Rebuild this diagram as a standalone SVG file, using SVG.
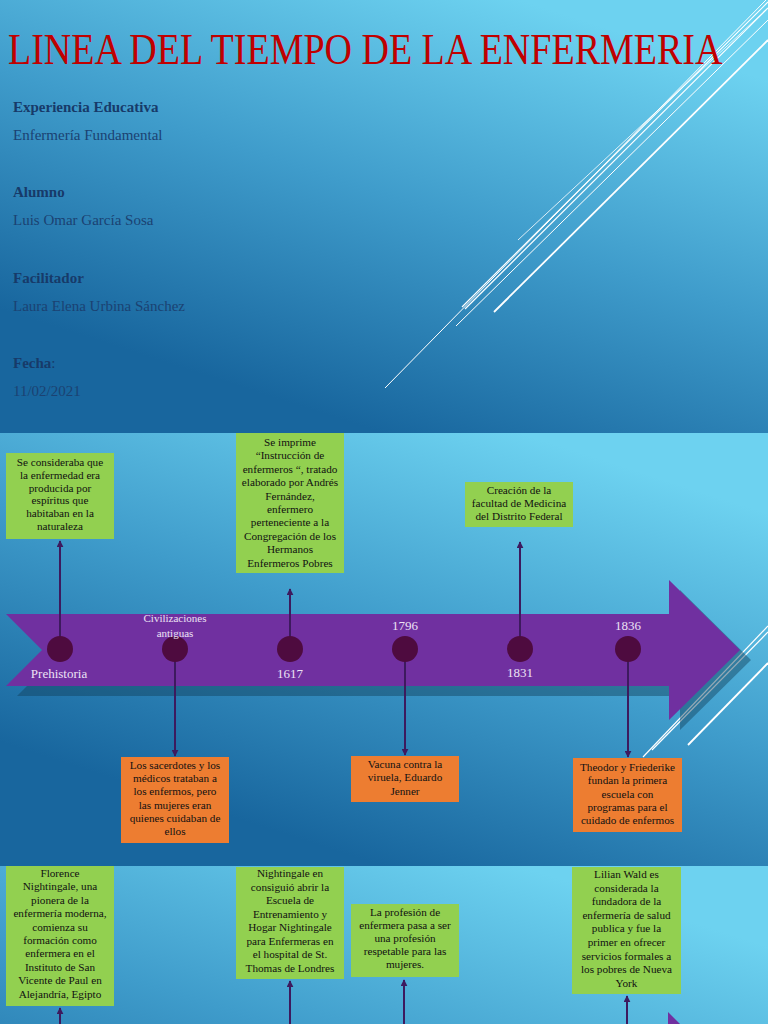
<svg xmlns="http://www.w3.org/2000/svg" width="768" height="1024" viewBox="0 0 768 1024">
<defs>
<linearGradient id="g1" gradientUnits="userSpaceOnUse" x1="520" y1="0" x2="380" y2="432">
<stop offset="0" stop-color="#6dd2f0"/><stop offset="0.5" stop-color="#3f9ccb"/><stop offset="1" stop-color="#18669e"/>
</linearGradient>
<linearGradient id="g2" gradientUnits="userSpaceOnUse" x1="520" y1="433" x2="380" y2="865">
<stop offset="0" stop-color="#6dd2f0"/><stop offset="0.5" stop-color="#3f9ccb"/><stop offset="1" stop-color="#18669e"/>
</linearGradient>
<linearGradient id="g3" gradientUnits="userSpaceOnUse" x1="520" y1="866" x2="380" y2="1298">
<stop offset="0" stop-color="#6dd2f0"/><stop offset="0.5" stop-color="#3f9ccb"/><stop offset="1" stop-color="#18669e"/>
</linearGradient>
<marker id="ah" viewBox="0 0 10 10" refX="9" refY="5" markerWidth="7" markerHeight="7" markerUnits="userSpaceOnUse" orient="auto">
<path d="M0,0 L10,5 L0,10 z" fill="#3d1a5e"/>
</marker>
</defs>
<style>
.deco{stroke:#ffffff;fill:none}
.hd{font-family:"Liberation Serif",serif;font-size:15px;font-weight:bold;fill:#173a69}
.tx{font-family:"Liberation Serif",serif;font-size:15px;fill:#1b4272}
.bx{font-family:"Liberation Serif",serif;font-size:11.2px;fill:#111111;text-anchor:middle}
.gr{fill:#92d050}
.or{fill:#ed7d31}
.lab{font-family:"Liberation Serif",serif;font-size:13px;fill:#ece2f4;text-anchor:middle}
.labs{font-family:"Liberation Serif",serif;font-size:11px;fill:#ece2f4;text-anchor:middle}
.dot{fill:#4e0b3f}
.con{stroke:#3d1a5e;stroke-width:2;fill:none}
</style>

<!-- slide backgrounds -->
<rect x="0" y="0" width="768" height="433" fill="url(#g1)"/>
<rect x="0" y="433" width="768" height="433" fill="url(#g2)"/>
<rect x="0" y="866" width="768" height="158" fill="url(#g3)"/>

<!-- slide 1 decoration -->
<g id="deco1">
<line class="deco" x1="518" y1="240" x2="768" y2="8" stroke-width="1" opacity="0.8"/>
<line class="deco" x1="462" y1="307" x2="768" y2="2" stroke-width="1.2"/>
<line class="deco" x1="465" y1="309" x2="768" y2="8" stroke-width="1.2"/>
<line class="deco" x1="456" y1="326" x2="768" y2="20" stroke-width="1"/>
<line class="deco" x1="494" y1="312" x2="768" y2="40" stroke-width="1.8"/>
<line class="deco" x1="385" y1="388" x2="766" y2="0" stroke-width="1"/>
</g>

<g id="title">
<text transform="translate(8,64) scale(1,1.16)" x="0" y="0" font-family="'Liberation Serif',serif" font-size="38" fill="#c00000">LINEA DEL TIEMPO DE LA ENFERMERIA</text>
</g>

<g id="info">
<text class="hd" x="13" y="112">Experiencia Educativa</text>
<text class="tx" x="13" y="140">Enfermería Fundamental</text>
<text class="hd" x="13" y="197">Alumno</text>
<text class="tx" x="13" y="225">Luis Omar García Sosa</text>
<text class="hd" x="13" y="283">Facilitador</text>
<text class="tx" x="13" y="311">Laura Elena Urbina Sánchez</text>
<text class="hd" x="13" y="368">Fecha<tspan font-weight="normal">:</tspan></text>
<text class="tx" x="13" y="396">11/02/2021</text>
</g>

<!-- slide 2 decoration lines -->
<g id="deco2">
<line class="deco" x1="643" y1="757" x2="768" y2="626" stroke-width="1.2"/>
<line class="deco" x1="652" y1="750" x2="768" y2="632" stroke-width="1.2"/>
<line class="deco" x1="688" y1="745" x2="768" y2="663" stroke-width="1.8"/>
</g>

<!-- timeline arrow -->
<g id="arrow">
<polygon points="17,624 680,624 680,590 751,660 680,730 680,696 17,696 53,660" fill="#12405a" opacity="0.45"/>
<polygon points="6,614 669,614 669,580 740,650 669,720 669,686 6,686 42,650" fill="#7030a0"/>
</g>

<!-- connectors -->
<g id="connectors">
<line class="con" x1="60" y1="640" x2="60" y2="541" marker-end="url(#ah)"/>
<line class="con" x1="175" y1="660" x2="175" y2="756" marker-end="url(#ah)"/>
<line class="con" x1="290" y1="640" x2="290" y2="589" marker-end="url(#ah)"/>
<line class="con" x1="405" y1="660" x2="405" y2="755" marker-end="url(#ah)"/>
<line class="con" x1="520" y1="640" x2="520" y2="542" marker-end="url(#ah)"/>
<line class="con" x1="628" y1="660" x2="628" y2="757" marker-end="url(#ah)"/>
<line class="con" x1="60" y1="1024" x2="60" y2="1008" marker-end="url(#ah)"/>
<line class="con" x1="290" y1="1024" x2="290" y2="981" marker-end="url(#ah)"/>
<line class="con" x1="404" y1="1024" x2="404" y2="980" marker-end="url(#ah)"/>
<line class="con" x1="627" y1="1024" x2="627" y2="996" marker-end="url(#ah)"/>
</g>

<!-- timeline points -->
<g id="p-prehistoria">
<circle class="dot" cx="60" cy="649" r="13"/>
<text class="lab" x="59" y="678">Prehistoria</text>
</g>
<g id="p-civilizaciones">
<circle class="dot" cx="175" cy="649" r="13"/>
<text class="labs" x="175" y="622">Civilizaciones</text>
<text class="labs" x="175" y="637">antiguas</text>
</g>
<g id="p-1617">
<circle class="dot" cx="290" cy="649" r="13"/>
<text class="lab" x="290" y="678">1617</text>
</g>
<g id="p-1796">
<circle class="dot" cx="405" cy="649" r="13"/>
<text class="lab" x="405" y="630">1796</text>
</g>
<g id="p-1831">
<circle class="dot" cx="520" cy="649" r="13"/>
<text class="lab" x="520" y="677">1831</text>
</g>
<g id="p-1836">
<circle class="dot" cx="628" cy="649" r="13"/>
<text class="lab" x="628" y="630">1836</text>
</g>

<!-- boxes slide 2 -->
<g id="box-espiritus">
<rect class="gr" x="6" y="453" width="108" height="86"/>
<text class="bx" x="60" y="466">Se consideraba que<tspan x="60" dy="12.8">la enfermedad era</tspan><tspan x="60" dy="12.8">producida por</tspan><tspan x="60" dy="12.8">espíritus que</tspan><tspan x="60" dy="12.8">habitaban en la</tspan><tspan x="60" dy="12.8">naturaleza</tspan></text>
</g>
<g id="box-instruccion">
<rect class="gr" x="236" y="433" width="108" height="140"/>
<text class="bx" x="290" y="446">Se imprime<tspan x="290" dy="13.4">“Instrucción de</tspan><tspan x="290" dy="13.4">enfermeros “, tratado</tspan><tspan x="290" dy="13.4">elaborado por Andrés</tspan><tspan x="290" dy="13.4">Fernández,</tspan><tspan x="290" dy="13.4">enfermero</tspan><tspan x="290" dy="13.4">perteneciente a la</tspan><tspan x="290" dy="13.4">Congregación de los</tspan><tspan x="290" dy="13.4">Hermanos</tspan><tspan x="290" dy="13.4">Enfermeros Pobres</tspan></text>
</g>
<g id="box-facultad">
<rect class="gr" x="465" y="482" width="108" height="45"/>
<text class="bx" x="519" y="494">Creación de la<tspan x="519" dy="13.2">facultad de Medicina</tspan><tspan x="519" dy="13.2">del Distrito Federal</tspan></text>
</g>
<g id="box-sacerdotes">
<rect class="or" x="121" y="757" width="108" height="86"/>
<text class="bx" x="175" y="769">Los sacerdotes y los<tspan x="175" dy="13.2">médicos trataban a</tspan><tspan x="175" dy="13.2">los enfermos, pero</tspan><tspan x="175" dy="13.2">las mujeres eran</tspan><tspan x="175" dy="13.2">quienes cuidaban de</tspan><tspan x="175" dy="13.2">ellos</tspan></text>
</g>
<g id="box-vacuna">
<rect class="or" x="351" y="756" width="108" height="46"/>
<text class="bx" x="405" y="768">Vacuna contra la<tspan x="405" dy="13.4">viruela, Eduardo</tspan><tspan x="405" dy="13.4">Jenner</tspan></text>
</g>
<g id="box-theodor">
<rect class="or" x="573" y="758" width="109" height="74"/>
<text class="bx" x="627.5" y="771">Theodor y Friederike<tspan x="627.5" dy="13.3">fundan la primera</tspan><tspan x="627.5" dy="13.3">escuela con</tspan><tspan x="627.5" dy="13.3">programas para el</tspan><tspan x="627.5" dy="13.3">cuidado de enfermos</tspan></text>
</g>

<!-- boxes slide 3 -->
<g id="box-florence">
<rect class="gr" x="6" y="866" width="108" height="140"/>
<text class="bx" x="60" y="877">Florence<tspan x="60" dy="13.4">Nightingale, una</tspan><tspan x="60" dy="13.4">pionera de la</tspan><tspan x="60" dy="13.4">enfermería moderna,</tspan><tspan x="60" dy="13.4">comienza su</tspan><tspan x="60" dy="13.4">formación como</tspan><tspan x="60" dy="13.4">enfermera en el</tspan><tspan x="60" dy="13.4">Instituto de San</tspan><tspan x="60" dy="13.4">Vicente de Paul en</tspan><tspan x="60" dy="13.4">Alejandría, Egipto</tspan></text>
</g>
<g id="box-escuela">
<rect class="gr" x="236" y="867" width="108" height="112"/>
<text class="bx" x="290" y="877">Nightingale en<tspan x="290" dy="13.5">consiguió abrir la</tspan><tspan x="290" dy="13.5">Escuela de</tspan><tspan x="290" dy="13.5">Entrenamiento y</tspan><tspan x="290" dy="13.5">Hogar Nightingale</tspan><tspan x="290" dy="13.5">para Enfermeras en</tspan><tspan x="290" dy="13.5">el hospital de St.</tspan><tspan x="290" dy="13.5">Thomas de Londres</tspan></text>
</g>
<g id="box-profesion">
<rect class="gr" x="351" y="904" width="108" height="73"/>
<text class="bx" x="405" y="916">La profesión de<tspan x="405" dy="13">enfermera pasa a ser</tspan><tspan x="405" dy="13">una profesión</tspan><tspan x="405" dy="13">respetable para las</tspan><tspan x="405" dy="13">mujeres.</tspan></text>
</g>
<g id="box-lilian">
<rect class="gr" x="572" y="867" width="109" height="127"/>
<text class="bx" x="626.5" y="878">Lilian Wald es<tspan x="626.5" dy="13.6">considerada la</tspan><tspan x="626.5" dy="13.6">fundadora de la</tspan><tspan x="626.5" dy="13.6">enfermería de salud</tspan><tspan x="626.5" dy="13.6">publica y fue la</tspan><tspan x="626.5" dy="13.6">primer en ofrecer</tspan><tspan x="626.5" dy="13.6">servicios formales a</tspan><tspan x="626.5" dy="13.6">los pobres de Nueva</tspan><tspan x="626.5" dy="13.6">York</tspan></text>
</g>

<g id="arrow2">
<polygon points="668,1012 680,1024 668,1024" fill="#7030a0"/>
</g>
</svg>
